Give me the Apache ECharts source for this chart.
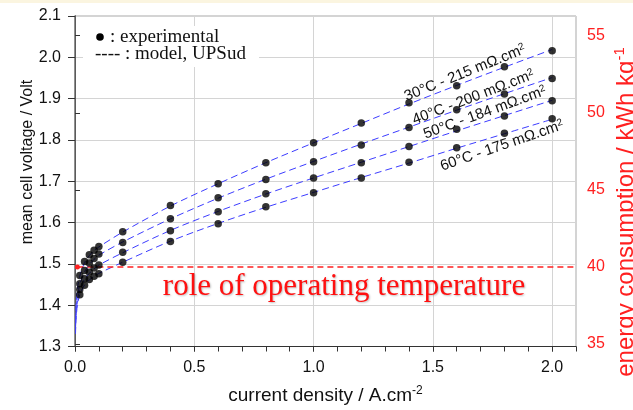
<!DOCTYPE html>
<html>
<head>
<meta charset="utf-8">
<script src="https://cdn.jsdelivr.net/npm/echarts@6/dist/echarts.min.js"></script>
<style>
  html, body { margin: 0; padding: 0; background: #ffffff; }
  #chart { width: 633px; height: 410px; }
</style>
</head>
<body>
<div id="chart"></div>
<script>
// Current density (A/cm²) of the measured points
const xExp = [0.02, 0.04, 0.06, 0.08, 0.1, 0.2, 0.4, 0.6, 0.8, 1.0, 1.2, 1.4, 1.6, 1.8, 2.0];
// Measured mean cell voltage (V) per operating temperature
const exp30 = [1.472, 1.506, 1.522, 1.533, 1.542, 1.578, 1.641, 1.694, 1.745, 1.793, 1.841, 1.890, 1.931, 1.977, 2.016];
const exp40 = [1.452, 1.484, 1.502, 1.513, 1.524, 1.552, 1.609, 1.660, 1.704, 1.747, 1.788, 1.830, 1.873, 1.911, 1.949];
const exp50 = [1.438, 1.464, 1.480, 1.490, 1.497, 1.528, 1.580, 1.626, 1.670, 1.708, 1.745, 1.784, 1.826, 1.858, 1.895];
const exp60 = [1.425, 1.448, 1.462, 1.470, 1.476, 1.504, 1.554, 1.597, 1.638, 1.672, 1.708, 1.746, 1.781, 1.816, 1.851];

// Model (UPSud) curves
const xModel = [0.002, 0.005, 0.01, 0.02, 0.04, 0.06, 0.08, 0.1, 0.2, 0.4, 0.6, 0.8, 1.0, 1.2, 1.4, 1.6, 1.8, 2.0];
const model30 = [1.36, 1.41, 1.44, 1.470, 1.503, 1.520, 1.532, 1.541, 1.577, 1.640, 1.694, 1.745, 1.793, 1.840, 1.887, 1.932, 1.976, 2.019];
const model40 = [1.35, 1.39, 1.42, 1.450, 1.481, 1.498, 1.511, 1.521, 1.553, 1.609, 1.659, 1.705, 1.748, 1.790, 1.831, 1.872, 1.912, 1.951];
const model50 = [1.34, 1.38, 1.41, 1.437, 1.463, 1.477, 1.488, 1.497, 1.527, 1.581, 1.627, 1.669, 1.708, 1.746, 1.784, 1.822, 1.859, 1.896];
const model60 = [1.33, 1.37, 1.40, 1.425, 1.449, 1.461, 1.470, 1.477, 1.504, 1.555, 1.598, 1.637, 1.673, 1.709, 1.744, 1.780, 1.815, 1.850];

// Energy consumption (kWh/kg) line
const xEnergy = [0.01, 0.1, 0.5, 1.0, 1.5, 2.1];
const energy = [40, 40, 40, 40, 40, 40];

// Curve annotations: temperature, ohmic resistance, label anchor (data coords), angle
const tempLabels = ['30°C - 215 mΩ.cm', '40°C - 200 mΩ.cm', '50°C - 184 mΩ.cm', '60°C - 175 mΩ.cm'];
const labelAnchors = [[1.635, 1.962], [1.670, 1.903], [1.718, 1.866], [1.790, 1.786]];
const labelAngles = [22, 21, 20, 19];

const xTicks = [0, 0.5, 1.0, 1.5, 2.0];
const rightTicks = [35, 40, 45, 50, 55];

const pair = (xs, ys) => xs.map((x, i) => [x, ys[i]]);

const modelSets = [model30, model40, model50, model60];
const expSets = [exp30, exp40, exp50, exp60];

const sans = '"Liberation Sans", Arial';
const serif = '"Liberation Serif", "Times New Roman"';

const series = [];
modelSets.forEach((m, k) => {
  series.push({
    type: 'line',
    data: pair(xModel, m),
    smooth: 0.3,
    symbol: 'none',
    z: 2,
    lineStyle: { color: '#3c3cff', width: 1, type: [7, 4] },
    markPoint: {
      symbol: 'circle',
      symbolSize: 0,
      data: [{ coord: labelAnchors[k] }],
      label: {
        show: true,
        position: 'inside',
        rotate: labelAngles[k],
        formatter: '{a|' + tempLabels[k] + '}{s|2}',
        rich: {
          a: { fontFamily: sans, fontSize: 15, color: '#111', lineHeight: 16 },
          s: { fontFamily: sans, fontSize: 10, color: '#111', verticalAlign: 'top', lineHeight: 16 }
        }
      }
    }
  });
});
expSets.forEach((e) => {
  series.push({
    type: 'scatter',
    data: pair(xExp, e),
    symbol: 'circle',
    symbolSize: 7.5,
    z: 4,
    itemStyle: { color: '#000' }
  });
});
series.push({
  type: 'line',
  yAxisIndex: 1,
  data: pair(xEnergy, energy).map((p, i) => i === 0 ? { value: p, symbol: 'circle', symbolSize: 5 } : { value: p }),
  symbol: 'none',
  z: 3,
  itemStyle: { color: '#ff2020' },
  lineStyle: { color: '#ff2020', width: 1.5, type: [6, 4] }
});

const chart = echarts.init(document.getElementById('chart'), null, { renderer: 'canvas' });
chart.setOption({
  animation: false,
  backgroundColor: '#ffffff',
  grid: { left: 75, right: 57, top: 16, bottom: 63, show: true, borderColor: '#a8a8a8', borderWidth: 1 },
  xAxis: [{
    type: 'value',
    min: 0, max: 2.1, interval: 0.5,
    axisLine: { show: true, onZero: false, lineStyle: { color: '#333', width: 1 } },
    axisTick: { show: true, inside: false, length: 5, lineStyle: { color: '#333' } },
    axisLabel: {
      showMaxLabel: false, margin: 13,
      fontFamily: sans, fontSize: 16, color: '#111',
      formatter: v => xTicks.includes(+v.toFixed(1)) ? v.toFixed(1) : ''
    },
    splitLine: { show: true, lineStyle: { color: '#d4d4d4', width: 1 } },
    name: '{n|current density / A.cm}{s|-2}',
    nameLocation: 'middle',
    nameGap: 38,
    nameTextStyle: {
      rich: {
        n: { fontFamily: sans, fontSize: 19, color: '#111', lineHeight: 22 },
        s: { fontFamily: sans, fontSize: 12, color: '#111', verticalAlign: 'top', lineHeight: 22 }
      }
    }
  }, {
    // finer 0.1 ticks along the bottom axis
    type: 'value',
    min: 0, max: 2.1, interval: 0.1,
    position: 'bottom',
    axisLine: { show: false },
    axisTick: { show: true, length: 5, lineStyle: { color: '#333' } },
    axisLabel: { show: false },
    splitLine: { show: false }
  }],
  yAxis: [{
    type: 'value',
    min: 1.3, max: 2.1, interval: 0.1,
    axisLine: { show: true, lineStyle: { color: '#000', width: 1 } },
    axisTick: { show: true, length: 7, lineStyle: { color: '#333' } },
    axisLabel: {
      margin: 14,
      fontFamily: sans, fontSize: 16, color: '#111',
      formatter: v => v.toFixed(1)
    },
    splitLine: { show: true, lineStyle: { color: '#d4d4d4', width: 1 } }
  }, {
    type: 'value',
    position: 'right',
    min: 34.84, max: 56.28,
    axisLine: { show: true, lineStyle: { color: '#7a7a7a', width: 1.5 } },
    axisTick: { show: true, length: 5, customValues: rightTicks, lineStyle: { color: '#333' } },
    axisLabel: {
      customValues: rightTicks, margin: 11,
      fontFamily: sans, fontSize: 16, color: '#ff2020'
    },
    splitLine: { show: false }
  }],
  graphic: [
    { type: 'rect', left: 0, top: 0, shape: { width: 633, height: 3 }, style: { fill: '#fbf5e0' }, silent: true },
    {
      type: 'text', x: 28, y: 162, rotation: Math.PI / 2,
      style: { text: 'mean cell voltage / Volt', font: '16px ' + sans, fill: '#111', align: 'center', verticalAlign: 'middle' }
    },
    {
      type: 'text', x: 626, y: 212, rotation: Math.PI / 2,
      style: {
        text: '{n|energy consumption / kWh kg}{s|-1}',
        align: 'center', verticalAlign: 'middle',
        rich: {
          n: { font: '24px ' + sans, fill: '#ff2020', lineHeight: 27 },
          s: { font: '15px ' + sans, fill: '#ff2020', verticalAlign: 'top', lineHeight: 27 }
        }
      }
    },
    {
      type: 'group', x: 83, y: 26,
      children: [
        { type: 'rect', z: 100, shape: { x: 0, y: 0, width: 176, height: 41 }, style: { fill: '#fff' } },
        { type: 'circle', z: 101, shape: { cx: 17, cy: 11, r: 3.8 }, style: { fill: '#000' } },
        { type: 'text', z: 101, x: 27, y: 11, style: { text: ': experimental', font: '19px ' + serif, fill: '#111', verticalAlign: 'middle' } },
        { type: 'text', z: 101, x: 12, y: 28, style: { text: '---- : model, UPSud', font: '19px ' + serif, fill: '#111', verticalAlign: 'middle' } }
      ]
    },
    {
      type: 'text', x: 344, y: 287, z: 10,
      style: {
        text: 'role of operating temperature',
        font: '31px ' + serif,
        fill: '#ff1010', align: 'center', verticalAlign: 'middle',
        textShadowColor: 'rgba(0,0,0,0.25)', textShadowBlur: 2, textShadowOffsetX: 1, textShadowOffsetY: 1
      }
    }
  ],
  series: series
});
</script>
</body>
</html>
